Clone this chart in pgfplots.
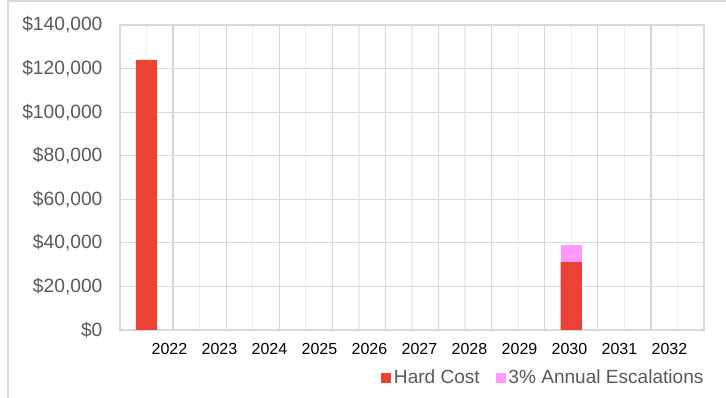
\documentclass[border=0pt]{standalone}
\usepackage{fontspec}
\setmainfont{Liberation Sans}
\usepackage{pgfplots}
\pgfplotsset{compat=1.18}
\definecolor{hard}{HTML}{EA4335}
\definecolor{esc}{HTML}{FF99FF}
\definecolor{gridmaj}{HTML}{D9D9D9}
\definecolor{gridv}{HTML}{D6D6D6}
\definecolor{gridmin}{HTML}{EDEDED}
\definecolor{lbl}{HTML}{595959}
\begin{document}
\begin{tikzpicture}[x=1pt,y=1pt]
\path[use as bounding box] (0,0) rectangle (544.5,298.5);
\draw[gridmaj, line width=1pt] (6,0) -- (6,297.75) -- (544.5,297.75);
\begin{axis}[
  at={(90pt,51pt)}, anchor=south west,
  scale only axis, width=438pt, height=228.75pt,
  xmin=-0.5, xmax=10.5, ymin=0, ymax=140000,
  scaled y ticks=false,
  ybar stacked, bar width=16pt,
  axis line style={draw=gridmaj, line width=0.9pt},
  major tick length=0pt, minor tick length=0pt,
  ytick={0,20000,40000,60000,80000,100000,120000,140000},
  yticklabels={{\$0},{\$20,000},{\$40,000},{\$60,000},{\$80,000},{\$100,000},{\$120,000},{\$140,000}},
  yticklabel style={font=\fontsize{14.4}{16}\selectfont, text=lbl, anchor=east, inner sep=0pt, xshift=-13pt},
  grid=major,
  y grid style={draw=gridmaj, line width=0.9pt},
  x grid style={draw=gridv, line width=1pt},
  xtick={-0.5,0.5,1.5,2.5,3.5,4.5,5.5,6.5,7.5,8.5,9.5,10.5},
  xticklabels={},
  minor xtick={0,1,2,3,4,5,6,7,8,9,10},
  xminorgrids, minor x grid style={draw=gridmin, line width=0.9pt},
  extra x ticks={0.432,1.374,2.316,3.257,4.199,5.141,6.083,7.025,7.966,8.908,9.850},
  extra x tick labels={2022,2023,2024,2025,2026,2027,2028,2029,2030,2031,2032},
  extra x tick style={grid=none, major tick length=0pt,
    xticklabel style={font=\fontsize{12}{14}\selectfont, text=black, anchor=base, inner sep=0pt, yshift=-18.75pt}},
  legend columns=2,
  legend style={at={(0.447,-0.157)}, anchor=west, draw=none, fill=none, inner sep=0pt,
    font=\fontsize{14.3}{16}\selectfont, text=lbl,
    /tikz/every even column/.append style={column sep=10pt}},
  legend image code/.code={\fill[#1] (0pt,-3.75pt) rectangle (7.5pt,3.75pt);},
]
\addplot[fill=hard, draw=none] coordinates {(0,124000) (1,0) (2,0) (3,0) (4,0) (5,0) (6,0) (7,0) (8,31200) (9,0) (10,0)};
\addlegendentry{Hard Cost}
\addplot[fill=esc, draw=none] coordinates {(0,0) (1,0) (2,0) (3,0) (4,0) (5,0) (6,0) (7,0) (8,7900) (9,0) (10,0)};
\addlegendentry{3\% Annual Escalations}
\end{axis}
\end{tikzpicture}
\end{document}
